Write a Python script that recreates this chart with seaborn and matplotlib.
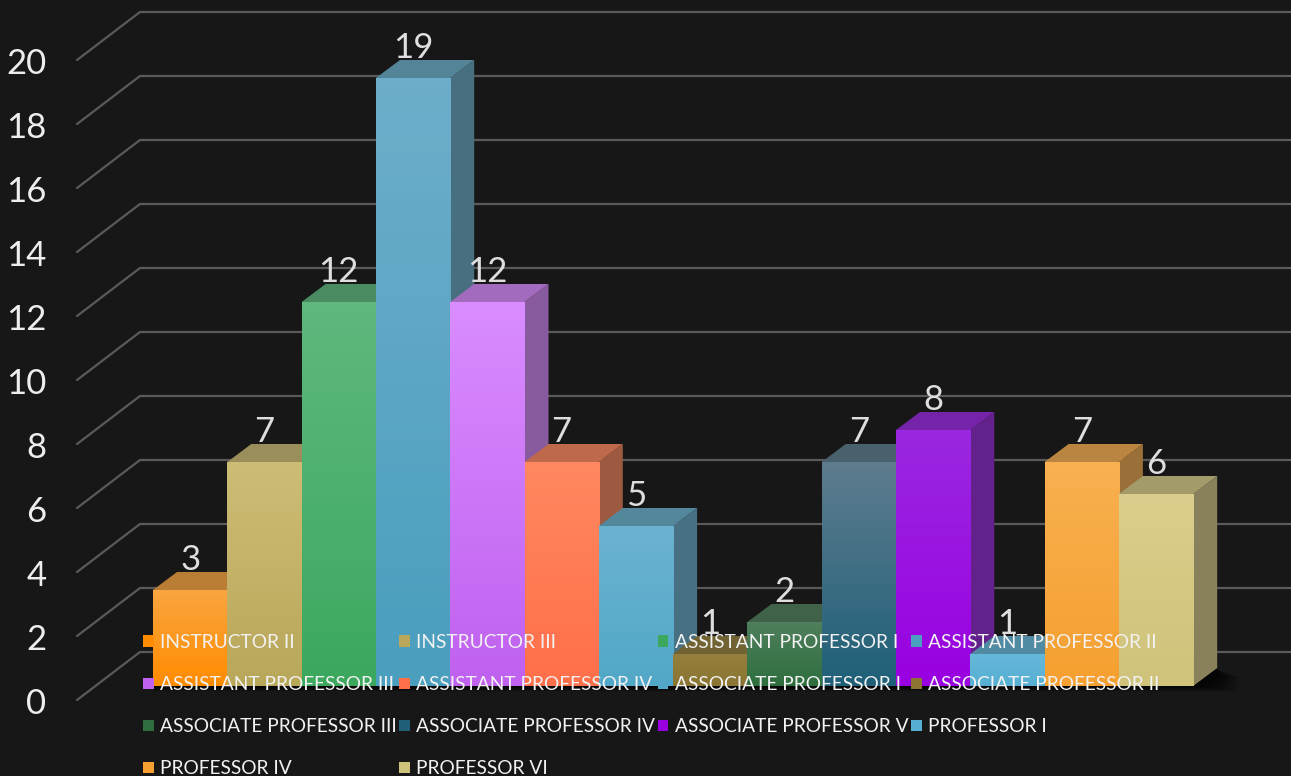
import numpy as np
import pandas as pd
import matplotlib
matplotlib.use("Agg")
import matplotlib.pyplot as plt
import seaborn as sns
from matplotlib.colors import to_rgb
from matplotlib.patches import Patch, Polygon
from matplotlib.transforms import ScaledTranslation

categories = ["INSTRUCTOR II", "INSTRUCTOR III", "ASSISTANT PROFESSOR I", "ASSISTANT PROFESSOR II",
              "ASSISTANT PROFESSOR III", "ASSISTANT PROFESSOR IV", "ASSOCIATE PROFESSOR I",
              "ASSOCIATE PROFESSOR II", "ASSOCIATE PROFESSOR III", "ASSOCIATE PROFESSOR IV",
              "ASSOCIATE PROFESSOR V", "PROFESSOR I", "PROFESSOR IV", "PROFESSOR VI"]
counts = [3, 7, 12, 19, 12, 7, 5, 1, 2, 7, 8, 1, 7, 6]
top_colors = ["#F9A53F", "#CDBC74", "#5FB87E", "#6CAECA", "#D98CFF", "#FF8860", "#6AB2D0",
              "#94803C", "#4F7F5C", "#5D7C8E", "#9A28E0", "#66B8DA", "#F9B050", "#DBCE8C"]
bottom_colors = ["#FF8C00", "#B9A85A", "#3BA85E", "#4A9EBE", "#C061F0", "#FF6F4A", "#52A8C8",
                 "#8A7632", "#2E6E3E", "#1F6078", "#9900E0", "#56AFD2", "#F5A030", "#CFC27A"]
yticks = list(range(0, 21, 2))

W, H = 1291, 776
BG = "#171717"
GRID = "#5A5A5A"
TEXT = "#EDEDED"
FONT = ["Lato", "DejaVu Sans"]

sns.set_theme(style="dark")
plt.rcParams["font.family"] = FONT

px_x, px_y = 74.3, 32.0      # pixels per category / per unit
base_px, first_px = 686, 153  # baseline and left edge of the first bar
ax_left = 70

fig = plt.figure(figsize=(W / 100, H / 100), dpi=100, facecolor=BG)
ax = fig.add_axes([ax_left / W, 0, (W - ax_left) / W, 1], facecolor=BG)

df = pd.DataFrame({"rank": categories, "count": counts})
sns.barplot(data=df, x="rank", y="count", hue="rank", order=categories, hue_order=categories,
            palette=bottom_colors, width=1, dodge=False, legend=False, ax=ax, linewidth=0)
xlim = (-0.5 - (first_px - ax_left) / px_x, -0.5 + (W - first_px) / px_x)
ylim = (-(H - base_px) / px_y, base_px / px_y)
ax.set_xlim(*xlim)
ax.set_ylim(*ylim)

# Depth of the 3-D look, in data units
dx, dy = 24 / px_x, 18 / px_y
wall_x = (140 - first_px) / px_x - 0.5
front_x = (77 - first_px) / px_x - 0.5
wall_dy = (base_px - 652) / px_y
front_dy = (base_px - 700) / px_y
for v in yticks:
    ax.plot([front_x, wall_x, xlim[1]], [v + front_dy, v + wall_dy, v + wall_dy],
            color=GRID, lw=1.6, zorder=1, solid_joinstyle="miter", clip_on=False)

def shade(c, f):
    bg = np.array(to_rgb(BG))
    return tuple(bg + (np.array(to_rgb(c)) - bg) * f)

bars = [c[0] for c in ax.containers]
x_end = bars[-1].get_x() + 1
# soft shadow under and to the right of the bars
for spread in range(44, 2, -4):
    s = spread / px_x
    ax.add_patch(Polygon([(-0.5, 0), (x_end + dx, dy * .9), (x_end + dx + s * .5, dy * .5),
                          (x_end + s, -spread * .12 / px_y), (-0.5, -spread * .12 / px_y)],
                         closed=True, fc="black", ec="none", alpha=.09, zorder=2))

for i, b in enumerate(bars):
    x0, w, h = b.get_x(), b.get_width(), b.get_height()
    x1 = x0 + w
    z = 10 + 3 * i
    ax.add_patch(Polygon([(x1, 0), (x1 + dx, dy), (x1 + dx, h + dy), (x1, h)], closed=True,
                         fc=shade(top_colors[i], .58), ec="none", zorder=z))
    ax.add_patch(Polygon([(x0, h), (x0 + dx, h + dy), (x1 + dx, h + dy), (x1, h)], closed=True,
                         fc=shade(top_colors[i], .72), ec="none", zorder=z + 1))
    b.set_zorder(z + 2)
    grad = np.linspace(0, 1, 64)[:, None, None]
    rgb = (1 - grad) * np.array(to_rgb(top_colors[i])) + grad * np.array(to_rgb(bottom_colors[i]))
    im = ax.imshow(rgb, extent=(x0, x1, 0, h), origin="upper", aspect="auto", zorder=z + 2.5)
    im.set_clip_path(b)
ax.set_xlim(*xlim)
ax.set_ylim(*ylim)

for b, v in zip(bars, counts):
    ax.annotate(str(v), (b.get_x() + b.get_width() / 2, v), xytext=(0, 10), textcoords="offset points",
                ha="center", va="bottom", color="#DEDEDE", fontsize=25, zorder=60, family=FONT)

ax.set_yticks(yticks)
ax.set_yticklabels([str(v) for v in yticks], fontsize=25, color=TEXT, family=FONT)
ax.tick_params(axis="y", length=0, pad=17, left=False)
ax.tick_params(axis="x", length=0, labelbottom=False)
ax.set_xlabel("")
ax.set_ylabel("")
ax.grid(False)
shift = ScaledTranslation(0, -15 / 100, fig.dpi_scale_trans)
for lab in ax.get_yticklabels():
    lab.set_transform(lab.get_transform() + shift)
for s in ax.spines.values():
    s.set_visible(False)

# legend filled row by row, matplotlib fills by column
order = [0, 4, 8, 12, 1, 5, 9, 13, 2, 6, 10, 3, 7, 11]
handles = [Patch(fc=bottom_colors[k], ec="none", label=categories[k]) for k in order]
leg = ax.legend(handles=handles, ncol=4, loc="upper left",
                bbox_to_anchor=((143 - ax_left) / (W - ax_left), 1 - 634 / H),
                frameon=False, labelcolor="#F2F2F2", handlelength=0.55, handleheight=0.55,
                handletextpad=0.32, columnspacing=0.15, labelspacing=1.31, borderpad=0, borderaxespad=0,
                prop={"family": FONT, "size": 13.8})
leg.set_zorder(70)

fig.savefig("out.png", dpi=100, facecolor=BG)
